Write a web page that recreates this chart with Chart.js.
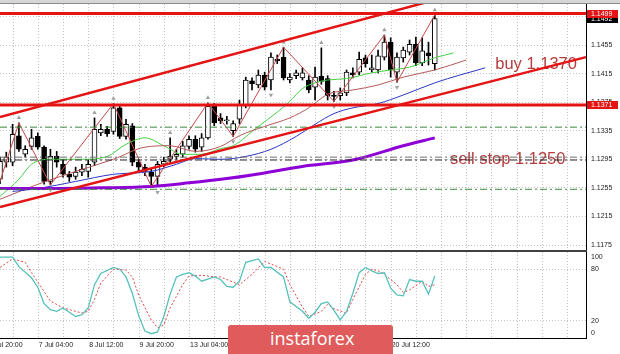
<!DOCTYPE html>
<html>
<head>
<meta charset="utf-8">
<script src="https://cdn.jsdelivr.net/npm/chart.js@4.4.1/dist/chart.umd.min.js"></script>
<style>
  html, body { margin: 0; padding: 0; background: #fff; }
  #wrap { position: relative; width: 620px; height: 354px; overflow: hidden; background: #fff; }
  #priceChart { position: absolute; left: 0; top: 0; }
  #stochChart { position: absolute; left: 0; top: 250px; }
  .logo {
    position: absolute; left: 228px; top: 325px; width: 165px; height: 32px;
    background: #e05b5b; border-radius: 3px 3px 0 0; box-sizing: border-box;
    padding-left: 42px; color: #fff; font: 18px "Open Sans", sans-serif; line-height: 26px;
  }
</style>
</head>
<body>
<div id="wrap">
  <canvas id="priceChart" width="620" height="250"></canvas>
  <canvas id="stochChart" width="620" height="104"></canvas>
  <div class="logo">instaforex</div>
</div>
<script>
// bar slots on screen (candles + empty shift area on the right)
const SLOTS = 94;

// H4 candles, oldest first
const opens  = [1.1267,1.1291,1.1291,1.1328,1.1302,1.1313,1.1327,1.1312,1.1264,1.1299,
                1.1288,1.1274,1.1271,1.1277,1.1278,1.1291,1.1332,1.1337,1.1334,1.1367,
                1.1327,1.1342,1.1291,1.1284,1.1277,1.1271,1.1288,1.1295,1.1299,1.1302,
                1.1313,1.1323,1.1312,1.1325,1.1369,1.1353,1.1349,1.1335,1.1351,1.1371,
                1.1405,1.1399,1.1413,1.1406,1.1435,1.1438,1.1406,1.1412,1.1409,1.1406,
                1.1396,1.1411,1.1408,1.1385,1.1384,1.1388,1.1416,1.1417,1.1437,1.1420,
                1.1420,1.1438,1.1459,1.1417,1.1437,1.1445,1.1456,1.1430,1.1444,1.1429];
const highs  = [1.1298,1.1305,1.1344,1.1346,1.1314,1.1337,1.1332,1.1314,1.1309,1.1306,
                1.1295,1.1278,1.1284,1.1288,1.1295,1.1353,1.1344,1.1341,1.1373,1.1371,
                1.1351,1.1345,1.1295,1.1288,1.1281,1.1292,1.1298,1.1325,1.1309,1.1320,
                1.1328,1.1328,1.1331,1.1374,1.1373,1.1359,1.1355,1.1349,1.1378,1.1410,
                1.1409,1.1420,1.1417,1.1444,1.1441,1.1452,1.1415,1.1420,1.1423,1.1412,
                1.1424,1.1451,1.1412,1.1390,1.1395,1.1420,1.1423,1.1445,1.1441,1.1441,
                1.1448,1.1469,1.1465,1.1444,1.1452,1.1462,1.1466,1.1465,1.1459,1.1497];
const lows   = [1.1261,1.1284,1.1286,1.1306,1.1298,1.1309,1.1309,1.1260,1.1259,1.1284,
                1.1270,1.1264,1.1267,1.1272,1.1270,1.1286,1.1328,1.1327,1.1330,1.1324,
                1.1323,1.1286,1.1279,1.1272,1.1257,1.1257,1.1284,1.1291,1.1295,1.1298,
                1.1309,1.1305,1.1306,1.1323,1.1342,1.1345,1.1344,1.1327,1.1345,1.1367,
                1.1392,1.1395,1.1392,1.1392,1.1429,1.1406,1.1402,1.1408,1.1406,1.1388,
                1.1378,1.1400,1.1378,1.1376,1.1378,1.1384,1.1409,1.1413,1.1424,1.1417,
                1.1416,1.1434,1.1410,1.1403,1.1431,1.1441,1.1426,1.1426,1.1427,1.1420];
const closes = [1.1292,1.1298,1.1330,1.1309,1.1309,1.1325,1.1312,1.1264,1.1299,1.1291,
                1.1274,1.1270,1.1277,1.1281,1.1288,1.1337,1.1337,1.1331,1.1367,1.1327,
                1.1344,1.1291,1.1284,1.1278,1.1271,1.1288,1.1292,1.1299,1.1302,1.1314,
                1.1323,1.1309,1.1325,1.1369,1.1346,1.1349,1.1350,1.1345,1.1371,1.1406,
                1.1401,1.1413,1.1396,1.1438,1.1433,1.1409,1.1410,1.1416,1.1416,1.1392,
                1.1410,1.1404,1.1384,1.1383,1.1388,1.1417,1.1413,1.1435,1.1429,1.1423,
                1.1440,1.1459,1.1420,1.1438,1.1448,1.1456,1.1430,1.1447,1.1440,1.1492];

// indicator readings as [bar, value]
const maSlow = [[0,1.1254],[8,1.1254],[16,1.1255],[24,1.1257],[30,1.1262],[36,1.1268],[40,1.1273],
                [48,1.1285],[56,1.1294],[64,1.1314],[69,1.1325]];
const jaw    = [[2,1.1250],[6,1.1254],[12,1.1264],[18,1.1274],[24,1.1278],[28,1.1288],[31,1.1296],
                [35,1.1295],[39,1.1299],[43,1.1309],[47,1.1327],[50,1.1344],[53,1.1359],[56,1.1367],
                [60,1.1373],[64,1.1385],[69,1.1402],[73,1.1413],[77,1.1423]];
const teeth  = [[0,1.1239],[6,1.1260],[12,1.1278],[18,1.1295],[23,1.1312],[27,1.1314],[31,1.1306],
                [35,1.1313],[38,1.1328],[42,1.1341],[46,1.1353],[49,1.1367],[52,1.1386],[56,1.1392],
                [60,1.1399],[64,1.1410],[69,1.1420],[74,1.1434]];
const lips   = [[0,1.1243],[3,1.1267],[5,1.1288],[8,1.1295],[13,1.1295],[17,1.1299],[20,1.1316],
                [23,1.1325],[26,1.1314],[29,1.1302],[32,1.1302],[35,1.1310],[37,1.1314],[41,1.1341],
                [44,1.1361],[46,1.1376],[48,1.1394],[50,1.1402],[52,1.1406],[55,1.1408],[59,1.1416],
                [62,1.1420],[65,1.1424],[69,1.1437],[72,1.1444]];
const zigzag = [[0,1.1264],[3,1.1346],[8,1.1259],[18,1.1373],[24,1.1257],[33,1.1374],[37,1.1327],
                [45,1.1452],[53,1.1376],[61,1.1469],[63,1.1403],[69,1.1497]];
const fractalsUp   = [[3,1.1353],[15,1.1360],[18,1.1380],[27,1.1332],[33,1.1381],[45,1.1459],
                      [51,1.1458],[61,1.1476],[69,1.1504]];
const fractalsDown = [[8,1.1252],[25,1.1249],[37,1.1320],[43,1.1385],[53,1.1369],[63,1.1396]];

// drawn objects
const channelUpper = [1.1354, 1.1575]; // at first and last slot
const channelLower = [1.1228, 1.1438];
const redLevels   = [1.1499, 1.1371];
const greenLevels = [1.1340, 1.1253];
const grayLevels  = [1.1298, 1.1294];
const notes = [
  { text: 'buy 1.1370', bar: 78.6, price: 1.1428 },
  { text: 'sell stop 1.1250', bar: 71.4, price: 1.1295 }
];

// axes
const priceTicks = [1.1175, 1.1215, 1.1255, 1.1295, 1.1335, 1.1375, 1.1415, 1.1455, 1.1495];
const priceTags = [
  { price: 1.1492, bg: '#000000' },
  { price: 1.1499, bg: '#e41414' },
  { price: 1.1371, bg: '#e41414' }
];
const timeTicks = [[-2,'3 Jul 20:00'],[6,'7 Jul 04:00'],[14,'8 Jul 12:00'],[22,'9 Jul 20:00'],
                   [30,'13 Jul 04:00'],[38,'14 Jul 12:00'],[46,'15 Jul 20:00'],[54,'17 Jul 04:00'],
                   [62,'20 Jul 12:00']];

// stochastic
const stochMain = [[0,94],[2,94],[3,83],[5,70],[6,59],[7,40],[8,33],[9,31],[10,35],[11,30],[12,25],
                   [13,27],[14,35],[15,62],[16,75],[18,82],[19,80],[20,71],[21,52],[22,26],[23,8],
                   [24,5],[25,7],[26,25],[27,51],[28,71],[29,74],[30,76],[31,72],[32,66],[34,71],
                   [35,68],[36,60],[37,59],[38,66],[39,88],[41,92],[42,82],[43,82],[45,71],[46,42],
                   [48,31],[49,23],[50,30],[51,40],[52,42],[53,32],[54,21],[55,31],[56,52],[57,76],
                   [58,82],[59,78],[60,75],[61,76],[62,58],[63,50],[64,49],[65,68],[66,66],[67,66],
                   [68,51],[69,72]];
const stochSignal = [[0,82],[2,92],[4,88],[5,76],[7,54],[8,43],[10,35],[11,33],[13,29],[14,31],
                     [15,45],[16,64],[18,80],[20,79],[21,71],[22,50],[24,21],[25,12],[26,15],[27,35],
                     [29,62],[30,72],[32,73],[34,71],[35,71],[37,65],[38,62],[40,74],[42,89],[43,86],
                     [45,80],[46,62],[48,36],[49,25],[51,31],[52,39],[53,34],[55,29],[56,45],[58,74],
                     [59,80],[60,78],[61,74],[63,62],[64,53],[65,56],[67,66],[68,60],[69,62]];
const stochTicks = [100, 80, 20, 0];

const slots = Array.from({ length: SLOTS }, (_, i) => i);
const AXIS_FONT = '7px "Liberation Sans"';

function series(pairs) {
    const out = new Array(SLOTS).fill(null);
    pairs.forEach(([i, v]) => { out[i] = v; });
    return out;
}

function lineSet(data, color, width, extra) {
    return Object.assign({
        type: 'line', data, borderColor: color, borderWidth: width,
        pointRadius: 0, fill: false, spanGaps: true, tension: 0
    }, extra);
}

function across(a, b) {
    return series([[0, a], [SLOTS - 1, b]]);
}

// dotted vertical grid every 4 bars, like the terminal
const vGrid = {
    id: 'vGrid',
    beforeDatasetsDraw(chart) {
        const { ctx, chartArea, scales: { x } } = chart;
        ctx.save();
        ctx.strokeStyle = '#c4c4c4';
        ctx.lineWidth = 1;
        ctx.setLineDash([1, 2]);
        for (let k = 2; k < SLOTS; k += 4) {
            const px = Math.round(x.getPixelForValue(k)) + 0.5;
            ctx.beginPath();
            ctx.moveTo(px, chartArea.top);
            ctx.lineTo(px, chartArea.bottom);
            ctx.stroke();
        }
        ctx.restore();
    }
};

const priceDecor = {
    id: 'priceDecor',
    beforeDatasetsDraw(chart) {
        const { ctx, scales: { x, y } } = chart;
        ctx.save();
        ctx.fillStyle = '#b43c3c';
        ctx.font = '16.5px "Liberation Sans"';
        ctx.textBaseline = 'middle';
        notes.forEach(n => ctx.fillText(n.text, x.getPixelForValue(n.bar), y.getPixelForValue(n.price)));
        ctx.restore();
    },
    afterDraw(chart) {
        const { ctx, chartArea, scales: { y } } = chart;
        ctx.save();
        ctx.font = AXIS_FONT;
        ctx.textBaseline = 'middle';
        // price scale labels
        ctx.fillStyle = '#222';
        priceTicks.forEach(v => ctx.fillText(v.toFixed(4), chartArea.right + 5, y.getPixelForValue(v)));
        priceTags.forEach(t => {
            const py = Math.round(y.getPixelForValue(t.price));
            ctx.fillStyle = t.bg;
            ctx.fillRect(chartArea.right + 1, py - 4, 31, 8);
            ctx.fillStyle = '#fff';
            ctx.fillText(t.price.toFixed(4), chartArea.right + 5, py + 0.5);
        });
        // window frame on top
        ctx.fillStyle = '#d6d6d6';
        ctx.fillRect(0, 0, chart.width, 3);
        ctx.fillStyle = '#8c8c8c';
        ctx.fillRect(0, 3, chart.width, 1);
        ctx.restore();
    }
};

const stochDecor = {
    id: 'stochDecor',
    afterDraw(chart) {
        const { ctx, chartArea, scales: { x, y } } = chart;
        ctx.save();
        // panel separator and bottom axis
        ctx.fillStyle = '#404040';
        ctx.fillRect(0, 0, chartArea.right + 1, 2);
        ctx.fillStyle = '#000';
        ctx.fillRect(0, chartArea.bottom, chartArea.right + 1, 1);
        ctx.font = AXIS_FONT;
        ctx.fillStyle = '#222';
        ctx.textBaseline = 'middle';
        stochTicks.forEach(v => {
            const py = Math.min(Math.max(y.getPixelForValue(v), chartArea.top + 5), chartArea.bottom - 5);
            ctx.fillText(String(v), chartArea.right + 5, py);
        });
        timeTicks.forEach(([bar, label]) => {
            ctx.fillText(label, x.getPixelForValue(bar) + 1, chartArea.bottom + 7);
        });
        ctx.restore();
    }
};

const bodyColors = closes.map((c, i) => (c >= opens[i] ? '#ffffff' : '#000000'));

new Chart(document.getElementById('priceChart'), {
    type: 'bar',
    data: {
        labels: slots,
        datasets: [
            ...redLevels.map(v => lineSet(across(v, v), '#e41414', 3, { order: 1 })),
            lineSet(across(channelUpper[0], channelUpper[1]), '#e41414', 2.5, { order: 1 }),
            lineSet(across(channelLower[0], channelLower[1]), '#e41414', 2.5, { order: 1 }),
            ...greenLevels.map(v => lineSet(across(v, v), '#3c8a3c', 1, { order: 1, borderDash: [7, 3, 2, 3] })),
            ...grayLevels.map((v, i) => lineSet(across(v, v), i ? '#2a2a2a' : '#707070', 1, { order: 1, borderDash: [7, 3, 2, 3] })),
            lineSet(series(zigzag), '#c84848', 1, { order: 2 }),
            { type: 'line', data: series(fractalsUp), showLine: false, pointStyle: 'triangle', pointRadius: 2.5,
              pointBackgroundColor: '#a0a0a0', pointBorderWidth: 0, order: 2 },
            { type: 'line', data: series(fractalsDown), showLine: false, pointStyle: 'triangle', pointRadius: 2.5,
              pointRotation: 180, pointBackgroundColor: '#a0a0a0', pointBorderWidth: 0, order: 2 },
            lineSet(series(maSlow), '#8e00d6', 3, { order: 3, cubicInterpolationMode: 'monotone' }),
            lineSet(series(jaw), '#2a36c4', 1, { order: 3, cubicInterpolationMode: 'monotone' }),
            lineSet(series(teeth), '#b85858', 1, { order: 3, cubicInterpolationMode: 'monotone' }),
            lineSet(series(lips), '#46d046', 1, { order: 3, cubicInterpolationMode: 'monotone' }),
            {
                type: 'bar', data: opens.map((o, i) => [o, closes[i]]),
                backgroundColor: bodyColors, borderColor: '#000', borderWidth: 1, borderSkipped: false,
                barThickness: 5, minBarLength: 1, grouped: false, order: 4
            },
            {
                type: 'bar', data: lows.map((l, i) => [l, highs[i]]),
                backgroundColor: '#000', borderWidth: 0, barThickness: 1, grouped: false, order: 5
            }
        ]
    },
    options: {
        responsive: false,
        animation: false,
        layout: { autoPadding: false, padding: { top: 4, left: 0, right: 0, bottom: 0 } },
        plugins: { legend: { display: false }, tooltip: { enabled: false } },
        scales: {
            x: { type: 'category', display: false, offset: false },
            y: {
                position: 'right', min: 1.1168, max: 1.15124,
                afterBuildTicks: s => { s.ticks = priceTicks.map(v => ({ value: v })); },
                afterFit: s => { s.width = 34; },
                ticks: { display: false },
                grid: { color: '#c4c4c4', drawTicks: false },
                border: { display: true, color: '#000', dash: [1, 2] }
            }
        }
    },
    plugins: [vGrid, priceDecor]
});

new Chart(document.getElementById('stochChart'), {
    type: 'line',
    data: {
        labels: slots,
        datasets: [
            { data: series(stochMain), borderColor: '#55c1ba', borderWidth: 1.3, pointRadius: 0, spanGaps: true, tension: 0 },
            { data: series(stochSignal), borderColor: '#e04646', borderWidth: 1, borderDash: [2, 2], pointRadius: 0, spanGaps: true, tension: 0 }
        ]
    },
    options: {
        responsive: false,
        animation: false,
        layout: { autoPadding: false, padding: { top: 2, left: 0, right: 0, bottom: 16 } },
        plugins: { legend: { display: false }, tooltip: { enabled: false } },
        scales: {
            x: { display: false, offset: false },
            y: {
                position: 'right', min: 0, max: 100,
                afterBuildTicks: s => { s.ticks = stochTicks.map(v => ({ value: v })); },
                afterFit: s => { s.width = 34; },
                ticks: { display: false },
                grid: { drawTicks: false, color: c => (c.tick && (c.tick.value === 20 || c.tick.value === 80)) ? '#c4c4c4' : 'rgba(0,0,0,0)' },
                border: { display: true, color: '#000', dash: [1, 2] }
            }
        }
    },
    plugins: [vGrid, stochDecor]
});
</script>
</body>
</html>
